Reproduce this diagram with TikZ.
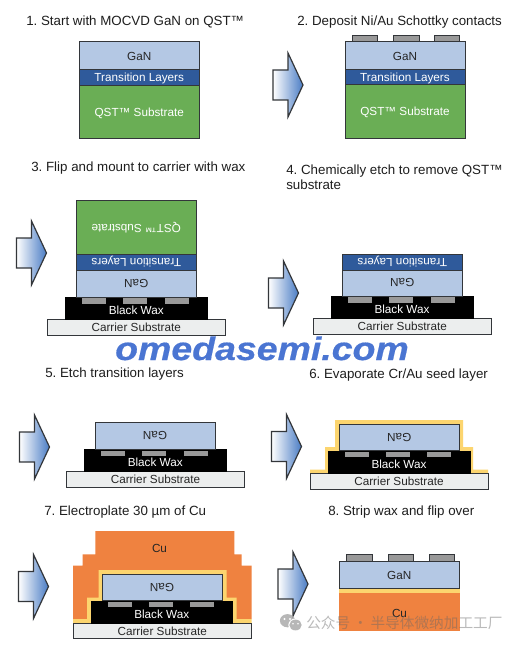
\documentclass[tikz,border=0pt]{standalone}
\usepackage{fontspec}
\setmainfont{Liberation Sans}
\newfontfamily\cjkfont{Noto Sans CJK SC}
\newfontfamily\wmfont[BoldItalicFont={Liberation Sans Bold Italic},BoldItalicFeatures={FakeBold=0.5}]{Liberation Sans}
\frenchspacing
\definecolor{ganc}{HTML}{B4C8E4}
\definecolor{tlc}{HTML}{2F5A9B}
\definecolor{qstc}{HTML}{6AAE55}
\definecolor{cuc}{HTML}{EF8240}
\definecolor{goldc}{HTML}{FCD56F}
\definecolor{carc}{HTML}{ECEEEE}
\definecolor{conc}{HTML}{999999}
\definecolor{edgec}{HTML}{33363A}
\definecolor{arrowc}{HTML}{4A7CC4}
\definecolor{wmc}{HTML}{4A75D2}
\definecolor{titlec}{HTML}{1E1E1E}
\tikzset{
  ttl/.style={font=\fontsize{10pt}{11.6pt}\selectfont,text=titlec,anchor=west,inner sep=0pt,align=left},
  lblbase/.style={font=\fontsize{8.8pt}{10pt}\selectfont,inner sep=0pt},
  lbl/.style={lblbase,yshift=-0.5pt},
  waxlbl/.style={lblbase,yshift=-1.5pt,text=white},
  lay/.style={draw=edgec,line width=0.75pt},
  gan/.style={lay,fill=ganc},
  tl/.style={lay,fill=tlc},
  qst/.style={lay,fill=qstc},
  car/.style={lay,fill=carc},
  wax/.style={fill=black,draw=black,line width=0.5pt},
  con/.style={fill=conc,draw=edgec,line width=0.6pt},
  conin/.style={fill=conc,draw=none},
  gold/.style={fill=goldc,draw=none},
  cu/.style={fill=cuc,draw=none},
  flip/.style={lblbase,rotate=180},
  bigarrow/.style={draw=edgec,line width=0.9pt,left color=white,right color=arrowc}
}
% #1 style, #2 #3 corners, #4 node options, #5 name, #6 text
\newcommand\layerbox[6]{\path[#1] (#2) rectangle (#3) node[midway,#4] (#5) {#6};}
\newcommand\procarrow[3]{\path[bigarrow] (#2,#3-15) -- (#2+15,#3-15) -- (#2+15,#3-32) -- (#2+30,#3) -- (#2+15,#3+32) -- (#2+15,#3+15) -- (#2,#3+15) -- cycle;}
\begin{document}
\begin{tikzpicture}[x=0.75pt,y=-0.75pt]
\useasboundingbox (0,0) rectangle (520,645);
\fill[white] (0,0) rectangle (520,645);

% titles
\node[ttl] (t1) at (26,22) {1. Start with MOCVD GaN on QST™};
\node[ttl] (t2) at (297,22) {2. Deposit Ni/Au Schottky contacts};
\node[ttl] (t3) at (31,168.5) {3. Flip and mount to carrier with wax};
\node[ttl] (t4) at (286,177.5) {4. Chemically etch to remove QST™\\substrate};
\node[ttl] (t5) at (45,374.5) {5. Etch transition layers};
\node[ttl] (t6) at (309,375) {6. Evaporate Cr/Au seed layer};
\node[ttl] (t7) at (44,512) {7. Electroplate 30 µm of Cu};
\node[ttl] (t8) at (328,512) {8. Strip wax and flip over};

% arrows
\procarrow{a}{273}{85}
\procarrow{a}{16.5}{253}
\procarrow{a}{268.5}{293}
\procarrow{a}{19.5}{447}
\procarrow{a}{271.5}{446.5}
\procarrow{a}{18.5}{586.5}
\procarrow{a}{278}{584}

% panel 1
\layerbox{gan}{79,42}{199.5,70}{lbl,text=black!85}{p1gan}{GaN}
\layerbox{qst}{79,86}{199.5,139}{lbl,text=white}{p1qst}{QST™ Substrate}
\layerbox{tl}{79,70}{199.5,86}{lbl,text=white}{p1tl}{Transition Layers}

% panel 2
\foreach \a/\b in {352/377,393.5/419,434.5/459.5} \draw[con] (\a,35.5) rectangle (\b,42);
\layerbox{gan}{345,42}{465,70}{lbl,text=black!85}{p2gan}{GaN}
\layerbox{qst}{345,85}{465,138.5}{lbl,text=white}{p2qst}{QST™ Substrate}
\layerbox{tl}{345,70}{465,85}{lbl,text=white}{p2tl}{Transition Layers}

% panel 3
\layerbox{car}{47,319}{225.5,335}{lbl,text=black!85}{p3car}{Carrier Substrate}
\layerbox{wax}{65.5,297}{207,319}{waxlbl}{p3wax}{Black Wax}
\foreach \a/\b in {82/106,123/147,165/189} \fill[conin] (\a,298) rectangle (\b,304);
\layerbox{gan}{76.5,270}{196,297}{flip,text=black!85}{p3gan}{GaN}
\layerbox{qst}{76.5,201}{196,254}{flip,text=white}{p3qst}{QST™ Substrate}
\layerbox{tl}{76.5,254}{196,270}{flip,text=white}{p3tl}{Transition Layers}

% panel 4
\layerbox{car}{313,318}{491.5,334}{lbl,text=black!85}{p4car}{Carrier Substrate}
\layerbox{wax}{331,296}{473,318}{waxlbl}{p4wax}{Black Wax}
\foreach \a/\b in {348/372,389/413,431/455} \fill[conin] (\a,297) rectangle (\b,303);
\layerbox{gan}{342.5,270}{462,296}{flip,text=black!85}{p4gan}{GaN}
\layerbox{tl}{342.5,254}{462,270}{flip,text=white}{p4tl}{Transition Layers}

% watermark
\node[font=\wmfont\fontsize{28.1pt}{30pt}\selectfont\bfseries\itshape,text=wmc,inner sep=0pt,yscale=0.87,transform shape,anchor=base] (wm) at (262,360) {omedasemi.com};

% panel 5
\layerbox{car}{66.5,471}{244.5,487}{lbl,text=black!85}{p5car}{Carrier Substrate}
\layerbox{wax}{84.5,449.5}{226,471}{waxlbl}{p5wax}{Black Wax}
\foreach \a/\b in {101/125,142/166,184/208} \fill[conin] (\a,450.5) rectangle (\b,456);
\layerbox{gan}{95,422}{215,449.5}{flip,text=black!85}{p5gan}{GaN}

% panel 6
\fill[gold] (310,473) -- (310,469.5) -- (325,469.5) -- (325,447) -- (335,447) -- (335,420) -- (463,420) -- (463,447) -- (473,447) -- (473,469.5) -- (488,469.5) -- (488,473) -- cycle;
\layerbox{car}{310,473}{488,489}{lbl,text=black!85}{p6car}{Carrier Substrate}
\layerbox{wax}{328,451}{470,473}{waxlbl}{p6wax}{Black Wax}
\foreach \a/\b in {345/369,386/410,427/451} \fill[conin] (\a,451.5) rectangle (\b,457);
\layerbox{gan}{339.5,424}{459,450.5}{flip,text=black!85}{p6gan}{GaN}

% panel 7
\path[cu] (73,619) -- (73,565.7) -- (82.7,565.7) -- (82.7,554.3) -- (95.3,554.3) -- (95.3,531) -- (234.3,531) -- (234.3,554.3) -- (241.7,554.3) -- (241.7,565.7) -- (251.7,565.7) -- (251.7,619) -- cycle;
\node[lbl,text=black!85] (p7cu) at (159.5,548) {Cu};
\fill[gold] (73,623) -- (73,619) -- (87,619) -- (87,597.7) -- (98.7,597.7) -- (98.7,570) -- (226.7,570) -- (226.7,597.7) -- (236.7,597.7) -- (236.7,619) -- (251.7,619) -- (251.7,623) -- cycle;
\layerbox{car}{73,623}{251.5,638}{lbl,text=black!85}{p7car}{Carrier Substrate}
\layerbox{wax}{91,601}{232.5,623}{waxlbl}{p7wax}{Black Wax}
\foreach \a/\b in {108/132,149/173,190/214} \fill[conin] (\a,601.7) rectangle (\b,607);
\layerbox{gan}{102,574}{222,600.5}{flip,text=black!85}{p7gan}{GaN}

% panel 8
\path[cu] (339,592.5) rectangle (459.5,630.7);
\node[lbl,text=black!85] (p8cu) at (399.5,613) {Cu};
\fill[gold] (339,588.7) rectangle (459.5,592.5);
\foreach \a/\b in {346.3/372,388.3/413.7,429/454.7} \draw[con] (\a,554.3) rectangle (\b,561);
\layerbox{gan}{339,561}{459.5,588.7}{lbl,text=black!85}{p8gan}{GaN}

% corner mark
\fill[black!35,opacity=0.8] (287.5,620.7) ellipse (7.6 and 6.6);
\fill[white] (295.5,625) ellipse (7.2 and 6.4);
\fill[black!35,opacity=0.8] (295.5,625) ellipse (6.2 and 5.4);
\fill[white] (284.5,619) circle (1.1) (290,619) circle (1.1) (293,623.8) circle (0.9) (298,623.8) circle (0.9);
\node[font=\cjkfont\fontsize{11pt}{12pt}\selectfont,text=black!60,opacity=0.45,inner sep=0pt,anchor=west] (mark) at (306,623) {公众号\hspace{0.19em}·\hspace{0.19em}半导体微纳加工工厂};
\end{tikzpicture}
\end{document}
